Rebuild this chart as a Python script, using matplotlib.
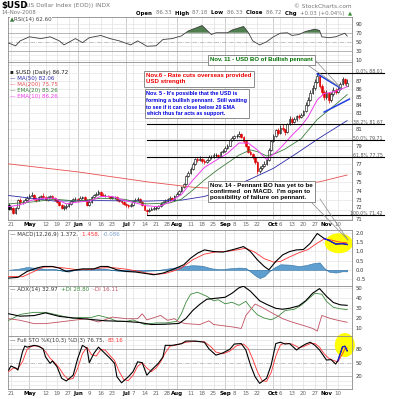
import numpy as np
import pandas as pd
import matplotlib
matplotlib.use("Agg")
import matplotlib.pyplot as plt
from matplotlib.patches import Ellipse
from matplotlib.lines import Line2D
from matplotlib.ticker import FixedLocator, NullLocator, NullFormatter

W, H = 400, 399

# trading sessions shown: 18 Apr - 14 Nov 2008 (US holidays skipped)
holidays = ["2008-05-26", "2008-07-04", "2008-09-01"]
dates = pd.bdate_range("2008-04-18", "2008-11-14", freq="C", holidays=holidays)

opens = [72.5, 72.1, 72.2, 71.6, 72.2, 73.0, 72.8, 72.8, 73.0, 73.2,
         73.5, 73.6, 73.1, 73.0, 73.3, 73.4, 73.3, 73.0, 73.3, 73.4,
         73.2, 73.0, 72.8, 72.5, 72.2, 72.3, 72.4, 72.6, 72.9, 73.1,
         73.1, 73.0, 73.2, 73.3, 73.0, 72.5, 72.8, 73.3, 73.6, 73.7,
         73.9, 73.6, 73.5, 73.5, 73.4, 73.2, 73.3, 73.3, 73.0, 72.9,
         72.8, 72.6, 72.5, 72.4, 72.5, 72.9, 73.0, 73.1, 72.8, 72.5,
         72.0, 71.8, 72.0, 72.1, 72.2, 72.2, 72.4, 72.6, 72.8, 72.9,
         73.1, 73.2, 73.0, 73.5, 73.7, 74.0, 74.4, 74.8, 75.6, 76.0,
         76.4, 77.0, 77.5, 77.4, 77.6, 77.3, 77.2, 77.4, 77.8, 77.8,
         78.0, 78.0, 77.9, 78.4, 78.5, 78.8, 79.1, 79.7, 80.0, 80.2,
         80.2, 80.5, 80.1, 79.6, 79.0, 78.4, 78.1, 77.8, 77.2, 76.2,
         76.5, 76.8, 77.0, 77.4, 78.6, 79.6, 80.2, 80.9, 80.6, 81.2,
         81.0, 80.7, 81.6, 82.3, 81.9, 82.2, 82.6, 82.5, 82.7, 83.2,
         84.0, 84.6, 85.5, 86.1, 86.9, 87.6, 86.4, 85.6, 85.0, 85.4,
         84.6, 85.3, 85.9, 85.6, 86.0, 86.6, 87.2, 86.33]
highs = [72.7, 72.4, 72.3, 72.3, 73.1, 73.2, 73.0, 73.2, 73.4, 73.7,
         73.9, 73.7, 73.3, 73.5, 73.6, 73.8, 73.4, 73.4, 73.6, 73.6,
         73.3, 73.1, 72.9, 72.6, 72.5, 72.6, 72.8, 73.0, 73.2, 73.3,
         73.2, 73.4, 73.5, 73.4, 73.1, 73.1, 73.4, 73.7, 73.9, 74.1,
         74.0, 73.8, 73.7, 73.6, 73.5, 73.5, 73.4, 73.4, 73.1, 73.0,
         72.9, 72.7, 72.6, 72.7, 73.0, 73.2, 73.3, 73.2, 72.9, 72.6,
         72.1, 72.2, 72.3, 72.4, 72.4, 72.5, 72.8, 72.9, 73.1, 73.2,
         73.4, 73.3, 73.6, 73.9, 74.1, 74.5, 74.9, 75.8, 76.2, 76.6,
         77.2, 77.7, 77.8, 77.9, 77.7, 77.5, 77.6, 78.0, 78.0, 78.2,
         78.2, 78.1, 78.5, 78.7, 79.0, 79.3, 79.9, 80.2, 80.4, 80.5,
         80.8, 80.6, 80.2, 79.7, 79.1, 78.6, 78.3, 77.9, 77.3, 76.8,
         77.0, 77.3, 77.6, 78.8, 79.8, 80.5, 81.1, 81.2, 81.5, 81.6,
         81.1, 81.8, 82.6, 82.5, 82.5, 82.8, 82.9, 83.0, 83.4, 84.3,
         85.0, 85.9, 86.5, 87.3, 88.01, 87.8, 86.6, 85.8, 85.8, 85.6,
         85.6, 86.2, 86.1, 86.3, 86.9, 87.5, 87.4, 87.18]
lows = [71.9, 71.9, 71.5, 71.5, 72.1, 72.6, 72.6, 72.7, 72.9, 73.1,
        73.4, 73.0, 72.8, 72.9, 73.2, 73.2, 72.9, 72.9, 73.2, 73.1,
        72.9, 72.7, 72.4, 72.1, 72.0, 72.1, 72.3, 72.5, 72.8, 72.9,
        72.8, 72.9, 73.1, 72.9, 72.4, 72.4, 72.7, 73.2, 73.5, 73.6,
        73.5, 73.4, 73.3, 73.3, 73.1, 73.1, 73.1, 72.9, 72.8, 72.6,
        72.5, 72.3, 72.2, 72.3, 72.4, 72.8, 72.9, 72.7, 72.4, 71.9,
        71.42, 71.7, 71.9, 72.0, 72.0, 72.1, 72.3, 72.5, 72.7, 72.8,
        73.0, 72.9, 72.9, 73.4, 73.6, 73.9, 74.3, 74.7, 75.5, 75.9,
        76.3, 76.9, 77.2, 77.3, 77.1, 77.0, 77.1, 77.3, 77.6, 77.7,
        77.8, 77.7, 77.8, 78.3, 78.4, 78.7, 79.0, 79.6, 79.9, 80.0,
        80.1, 80.0, 79.4, 78.9, 78.3, 78.0, 77.6, 77.0, 75.9, 76.0,
        76.3, 76.7, 76.9, 77.3, 78.5, 79.5, 80.1, 80.4, 80.5, 80.8,
        80.4, 80.6, 81.5, 81.6, 81.8, 82.0, 82.3, 82.4, 82.6, 83.1,
        83.8, 84.5, 85.3, 85.9, 86.7, 86.1, 85.2, 84.6, 84.7, 84.2,
        84.4, 85.1, 85.3, 85.4, 85.9, 86.5, 86.5, 86.33]
closes = [72.1, 72.2, 71.6, 72.2, 73.0, 72.8, 72.8, 73.0, 73.2, 73.5,
          73.6, 73.1, 73.0, 73.3, 73.4, 73.3, 73.0, 73.3, 73.4, 73.2,
          73.0, 72.8, 72.5, 72.2, 72.3, 72.4, 72.6, 72.9, 73.1, 73.1,
          73.0, 73.2, 73.3, 73.0, 72.5, 72.8, 73.3, 73.6, 73.7, 73.9,
          73.6, 73.5, 73.5, 73.4, 73.2, 73.3, 73.3, 73.0, 72.9, 72.8,
          72.6, 72.5, 72.4, 72.5, 72.9, 73.0, 73.1, 72.8, 72.5, 72.0,
          71.8, 72.0, 72.1, 72.2, 72.2, 72.4, 72.6, 72.8, 72.9, 73.1,
          73.2, 73.0, 73.5, 73.7, 74.0, 74.4, 74.8, 75.6, 76.0, 76.4,
          77.0, 77.5, 77.4, 77.6, 77.3, 77.2, 77.4, 77.8, 77.8, 78.0,
          78.0, 77.9, 78.4, 78.5, 78.8, 79.1, 79.7, 80.0, 80.2, 80.2,
          80.5, 80.1, 79.6, 79.0, 78.4, 78.1, 77.8, 77.2, 76.2, 76.5,
          76.8, 77.0, 77.4, 78.6, 79.6, 80.2, 80.9, 80.6, 81.2, 81.0,
          80.7, 81.6, 82.3, 81.9, 82.2, 82.6, 82.5, 82.7, 83.2, 84.0,
          84.6, 85.5, 86.1, 86.9, 87.6, 86.4, 85.6, 85.0, 85.4, 84.6,
          85.3, 85.9, 85.6, 86.0, 86.6, 87.2, 86.69, 86.72]

# overlays / indicators, x = session number from 18 Apr
ma50_t = [0, 10, 20, 40, 60, 75, 85, 95, 105, 115, 125, 135, 147]
ma50 = [73.5, 73.2, 72.9, 72.95, 72.9, 73.0, 73.4, 74.2, 75.3, 76.5, 78.2, 80.0, 82.06]
ma200_t = [0, 30, 60, 80, 95, 110, 125, 135, 147]
ma200 = [77.0, 76.1, 75.0, 74.4, 74.2, 74.3, 74.7, 75.0, 75.75]
ema20_t = [0, 10, 20, 30, 40, 50, 60, 70, 75, 80, 85, 90, 95, 100, 105, 108, 112,
           116, 120, 127, 134, 141, 147]
ema20 = [72.6, 72.8, 73.1, 72.9, 73.2, 73.1, 72.6, 72.7, 73.1, 74.1, 75.2, 76.2, 77.1,
         78.0, 78.6, 78.4, 77.9, 78.2, 78.7, 79.9, 82.2, 83.8, 85.26]
ema10_t = [0, 5, 10, 15, 20, 25, 30, 35, 40, 45, 50, 55, 60, 65, 70, 75, 80, 85, 90,
           95, 100, 104, 108, 112, 116, 119, 123, 127, 130, 134, 137, 141, 144, 147]
ema10 = [72.3, 72.5, 73.0, 73.2, 73.2, 72.6, 72.8, 72.9, 73.4, 73.4, 73.0, 72.7, 72.4,
         72.3, 72.8, 73.6, 75.2, 76.6, 77.4, 78.2, 79.4, 79.4, 78.6, 77.5, 78.3, 79.1,
         80.3, 81.4, 82.5, 84.6, 85.4, 85.6, 85.9, 86.26]

rsi_t = [0, 3, 5, 9, 14, 18, 22, 24, 29, 32, 35, 40, 44, 48, 53, 56, 60, 64, 67, 71,
         75, 78, 83, 84, 86, 88, 90, 95, 97, 102, 104, 106, 109, 112, 115, 118, 121,
         123, 126, 129, 133, 135, 136, 139, 142, 146, 147]
rsi = [47, 41, 52, 61, 57, 61, 52, 43, 57, 48, 59, 64, 57, 52, 43, 52, 40, 41, 55, 57,
       63, 74, 84, 86, 76, 66, 70, 70, 76, 84, 71, 52, 43, 50, 61, 69, 70, 64, 66, 73,
       78, 75, 61, 59, 61, 69, 62.6]

macd_t = [0, 4, 8, 12, 15, 19, 22, 25, 28, 32, 37, 40, 43, 47, 51, 55, 60, 63, 67, 71,
          76, 79, 82, 85, 89, 93, 97, 102, 105, 108, 111, 113, 116, 119, 122, 125, 128,
          131, 134, 137, 139, 142, 145, 147]
macd = [-0.45, -0.41, -0.09, 0.09, 0.18, 0.18, 0.09, -0.09, -0.03, 0.05, 0.05, 0.18,
        0.18, 0.0, -0.09, -0.12, -0.21, -0.27, -0.18, 0.0, 0.27, 0.63, 0.9, 1.08, 0.99,
        0.96, 1.08, 1.26, 0.99, 0.54, 0.18, 0.0, 0.45, 0.81, 0.99, 1.08, 1.1, 1.44,
        1.97, 1.7, 1.6, 1.4, 1.42, 1.372]
signal_t = [0, 6, 11, 15, 19, 24, 30, 36, 40, 45, 50, 55, 60, 64, 68, 72, 75, 80, 85,
            90, 95, 100, 103, 107, 111, 115, 118, 122, 126, 130, 134, 137, 140, 143, 147]
signal = [-0.36, -0.38, -0.09, 0.14, 0.16, 0.1, 0.0, 0.02, 0.1, 0.12, 0.05, -0.05,
          -0.18, -0.25, -0.2, -0.05, 0.1, 0.55, 0.85, 0.97, 1.0, 1.1, 1.17, 0.95, 0.6,
          0.42, 0.45, 0.7, 0.92, 1.1, 1.45, 1.67, 1.62, 1.52, 1.458]
hist_t = [0, 4, 8, 12, 16, 20, 23, 26, 29, 33, 38, 42, 46, 50, 55, 60, 64, 68, 72, 76,
          80, 84, 88, 92, 96, 100, 103, 105, 107, 109, 111, 113, 115, 118, 122, 126,
          129, 132, 135, 137, 139, 142, 145, 147]
hist = [0.0, 0.05, 0.15, 0.1, 0.05, 0.05, -0.05, -0.1, 0.0, 0.05, 0.08, 0.06, -0.03,
        -0.08, -0.08, -0.05, -0.03, 0.05, 0.12, 0.2, 0.25, 0.22, 0.08, 0.03, 0.08, 0.12,
        0.1, -0.1, -0.3, -0.45, -0.35, -0.1, 0.1, 0.3, 0.28, 0.2, 0.25, 0.35, 0.4, 0.1,
        -0.1, -0.15, -0.08, -0.086]

adx_t = [0, 5, 11, 16, 22, 28, 34, 42, 50, 57, 62, 68, 74, 77, 80, 83, 86, 90, 94, 97,
         100, 102, 105, 109, 112, 116, 119, 122, 126, 129, 132, 135, 138, 141, 144, 147]
adx = [24.6, 22.2, 22.8, 25.5, 22.0, 20.5, 19.3, 17.6, 17.1, 15.9, 13.9, 14.2, 15.0,
       20.0, 28.0, 34.0, 39.0, 40.0, 41.0, 45.0, 50.4, 52.0, 47.0, 37.5, 34.0, 30.0,
       29.1, 30.1, 32.5, 37.5, 45.0, 49.6, 42.0, 35.8, 33.5, 32.97]
pdi_t = [0, 5, 11, 16, 22, 25, 28, 31, 36, 39, 44, 47, 51, 54, 59, 64, 68, 73, 75, 77,
         79, 82, 86, 89, 91, 94, 97, 100, 103, 105, 108, 111, 114, 117, 120, 124, 127,
         130, 133, 136, 138, 141, 144, 147]
pdi = [18, 24, 26, 26, 23, 21.4, 20, 21, 21, 23, 20, 17, 17, 18.5, 14, 15.5, 15.5, 17,
       24.6, 36, 44, 46, 42, 37.5, 38.5, 34.5, 36, 33, 37, 31, 23.6, 20.3, 18.6, 22,
       27.8, 29, 33, 39, 45, 44, 37, 31, 29.5, 28.8]
mdi_t = [0, 5, 11, 16, 22, 28, 34, 39, 45, 51, 56, 58, 60, 66, 69, 72, 74, 77, 83, 87,
         89, 97, 101, 103, 107, 110, 115, 119, 123, 128, 132, 134, 136, 140, 143, 147]
mdi = [19.7, 18.1, 14.8, 14.8, 16.4, 18.1, 19.7, 16.4, 21.3, 19.7, 19.7, 24.6, 18.5,
       22.9, 18.1, 19.7, 16.4, 14.8, 13.9, 17.6, 13.9, 11.6, 10.0, 22.9, 34.3, 31.0,
       24.6, 19.7, 16.4, 13.0, 10.0, 7.4, 22.9, 19.7, 18.1, 16.11]

stok_t = [0, 1, 3, 4, 6, 7, 8, 11, 13, 15, 16, 18, 19, 21, 23, 25, 28, 30, 32, 34, 35,
          37, 39, 41, 44, 46, 47, 49, 52, 54, 56, 58, 60, 62, 65, 67, 68, 71, 75, 77,
          81, 85, 87, 90, 93, 96, 98, 101, 103, 105, 107, 109, 112, 114, 116, 118, 120,
          122, 125, 127, 129, 131, 133, 135, 138, 140, 142, 143, 144, 145, 146, 147]
stok = [33.6, 42.6, 38, 33.6, 74.7, 87.4, 85, 89, 87, 81, 63, 48.6, 54, 41, 15, 9, 22,
        60, 89, 82.6, 50, 71, 85, 75, 60, 48.6, 18.6, 5, 18.6, 30, 52, 50, 22, 33.6,
        48.6, 63, 89, 89, 92.6, 98.6, 98.6, 96, 81, 67, 72, 80, 92, 93, 78.6, 45, 18.6,
        3.7, 15, 45, 93, 96, 92, 93, 78.6, 86, 92, 96, 89, 78.6, 56, 57, 47, 55, 70,
        85.7, 87, 76.75]
stod_t = [0, 2, 4, 6, 8, 10, 12, 14, 16, 18, 20, 22, 24, 26, 28, 30, 32, 34, 36, 38,
          40, 42, 44, 46, 48, 50, 52, 54, 56, 58, 60, 62, 64, 66, 68, 70, 73, 77, 81,
          85, 88, 90, 93, 96, 99, 102, 104, 106, 108, 110, 112, 114, 116, 118, 120, 123,
          126, 128, 131, 133, 135, 137, 139, 141, 143, 145, 146, 147]
stod = [30, 38, 37, 52, 80, 87, 88, 85, 75, 60, 50, 38, 22, 12, 15, 38, 70, 85, 68, 65,
        80, 78, 66, 55, 30, 12, 10, 22, 42, 50, 38, 30, 38, 52, 72, 87, 90, 96, 98, 97,
        85, 74, 70, 76, 88, 92, 82, 58, 30, 10, 8, 28, 65, 90, 94, 92, 84, 86, 93, 93,
        85, 70, 60, 55, 52, 70, 81, 83.16]

# Fibonacci retracement levels as labelled on the chart
fib_pct = ["0.0%", "38.2%", "50.0%", "61.8%", "100.0%"]
fib_level = [88.01, 81.67, 79.71, 77.75, 71.42]

# hand-drawn pennant (session, price)
pennant_top = ([134, 144], [87.9, 86.1])
pennant_bot = ([137, 148], [83.1, 84.7])

tick_days = ["2008-04-21", "2008-05-01", "2008-05-12", "2008-05-19", "2008-05-27",
             "2008-06-02", "2008-06-09", "2008-06-16", "2008-06-23", "2008-07-01",
             "2008-07-07", "2008-07-14", "2008-07-21", "2008-07-28", "2008-08-01",
             "2008-08-11", "2008-08-18", "2008-08-25", "2008-09-02", "2008-09-08",
             "2008-09-15", "2008-09-22", "2008-10-01", "2008-10-06", "2008-10-13",
             "2008-10-20", "2008-10-27", "2008-11-03", "2008-11-10"]
tick_text = ["21", "May", "12", "19", "27", "Jun", "9", "16", "23", "Jul", "7", "14",
             "21", "28", "Aug", "11", "18", "25", "Sep", "8", "15", "22", "Oct", "6",
             "13", "20", "27", "Nov", "10"]

note_bo = "Nov. 11 - USD BO of Bullish pennant"
note_rate = "Nov.6 - Rate cuts overseas provided\nUSD strength"
note_pennant = ("Nov. 5 - It's possible that the USD is\n"
                "forming a bullish pennant.  Still waiting\n"
                "to see if it can close below 20 EMA\n"
                "which thus far acts as support.")
note_macd = ("Nov. 14 - Pennant BO has yet to be\n"
             "confirmed  on MACD.  I'm open to\n"
             "possibility of failure on pennant.")

C_MA50 = "#2b2ba8"
C_MA200 = "#e8504f"
C_EMA20 = "#3c7d3c"
C_EMA10 = "#f03cf0"
C_RED = "#e00000"
GREY = "#555555"

tick_pos = dates.get_indexer(pd.to_datetime(tick_days))
is_month = [t.isalpha() for t in tick_text]

fig = plt.figure(figsize=(W / 100, H / 100), dpi=100)
fig.patch.set_facecolor("white")


def P(px, py):
    return px / W, 1 - py / H


def panel(top, bottom):
    ax = fig.add_axes([8 / W, 1 - bottom / H, 344 / W, (bottom - top) / H])
    ax.set_xlim(-0.3, 149.1)
    for s in ax.spines.values():
        s.set_color("#8c8c8c")
        s.set_linewidth(0.6)
    ax.yaxis.tick_right()
    ax.tick_params(axis="y", length=0, pad=2.5, labelsize=3.8, labelcolor="#333333")
    ax.tick_params(axis="x", length=0, pad=1.5, labelsize=4, labelbottom=False)
    ax.set_xticks(tick_pos)
    ax.set_xticklabels(tick_text)
    for xp, m in zip(tick_pos, is_month):
        ax.axvline(xp, color="#b9b9b9" if m else "#e0e0e0", lw=0.5, zorder=0.5)
    return ax


def style_dates(ax):
    ax.tick_params(axis="x", labelbottom=True)
    for lab, m in zip(ax.get_xticklabels(), is_month):
        lab.set_color("black" if m else "#666666")
        lab.set_fontweight("bold" if m else "normal")


def hline(ax, y, color="#e4e4e4", ls="-", lw=0.5):
    ax.axhline(y, color=color, ls=ls, lw=lw, zorder=0.6)


def text_run(px, py, parts, size=4.0, align="left", box=False):
    r = fig.canvas.get_renderer()
    arts = []
    for s, color, weight in parts:
        kw = {}
        if box:
            kw["bbox"] = dict(fc="white", ec="none", pad=0.2)
        arts.append(fig.text(*P(px, py), s, fontsize=size, color=color,
                             fontweight=weight, va="center", ha="left", zorder=6, **kw))
    gap = size * 1.389 * 0.32
    widths = [a.get_window_extent(r).width + (gap if s.endswith(" ") else 0)
              for a, (s, _, _) in zip(arts, parts)]
    x = px if align == "left" else px - sum(widths)
    for a, w in zip(arts, widths):
        a.set_x(x / W)
        x += w


# ---------------- RSI ----------------
ax_rsi = panel(17, 62)
ax_rsi.set_ylim(5, 105)
ax_rsi.set_yticks([10, 30, 50, 70, 90])
for v in [10, 20, 40, 60, 80, 90]:
    hline(ax_rsi, v)
hline(ax_rsi, 70, "#999999")
hline(ax_rsi, 30, "#999999")
hline(ax_rsi, 50, "#aaaaaa", "-.")
r_t, r_v = np.array(rsi_t), np.array(rsi, float)
ax_rsi.fill_between(r_t, r_v, 70, where=r_v >= 70, interpolate=True,
                    color="#4f7f4f", lw=0, zorder=2)
ax_rsi.plot(r_t, r_v, color="#3c3c3c", lw=0.6, zorder=3)

# ---------------- price ----------------
ax = panel(62, 220)
ax.set_yscale("log")
ax.set_ylim(70.90, 89.45)
price_ticks = list(range(71, 90))
hidden = {72, 78, 80, 82, 88, 89}
ax.yaxis.set_major_locator(FixedLocator(price_ticks))
ax.yaxis.set_minor_locator(NullLocator())
ax.yaxis.set_minor_formatter(NullFormatter())
ax.set_yticklabels(["" if p in hidden else str(p) for p in price_ticks])
# 72 sits just above the 100% retracement label, nudge it up a little
ax.annotate("72", (1, 72), xycoords=ax.get_yaxis_transform(), xytext=(2.5, 1.8),
            textcoords="offset points", fontsize=3.8, color="#333333",
            ha="left", va="center", annotation_clip=False)
ax.grid(axis="y", color="#e4e4e4", lw=0.5)
ax.set_axisbelow(True)
style_dates(ax)

x = np.arange(len(dates))
o, h, l, c = (np.array(v, float) for v in (opens, highs, lows, closes))
prev = np.r_[c[0], c[:-1]]
col = np.where(c < prev, C_RED, "#000000")
face = np.where(c < o, col, "white")
ax.vlines(x, l, h, colors=col, lw=0.5, zorder=3)
ax.bar(x, np.abs(c - o), bottom=np.minimum(o, c), width=0.75, color=face,
       edgecolor=col, lw=0.4, zorder=4)

ax.plot(ma200_t, ma200, color=C_MA200, lw=0.6, zorder=5)
ax.plot(ma50_t, ma50, color=C_MA50, lw=0.6, zorder=5)
ax.plot(ema20_t, ema20, color=C_EMA20, lw=0.6, zorder=5)
ax.plot(ema10_t, ema10, color=C_EMA10, lw=0.7, zorder=5)

i_hi, i_lo = int(np.argmax(h)), int(np.argmin(l))
x0, x1 = ax.get_xlim()
x_ext = x0 + 1.093 * (x1 - x0)
for pct, lev in zip(fib_pct, fib_level):
    start = i_hi if pct == "0.0%" else i_lo
    ax.plot([start, x_ext], [lev, lev], color="black", lw=0.8, clip_on=False, zorder=6)
    ax.annotate(f"{pct} {lev:.2f}", (1.09, lev), xycoords=ax.get_yaxis_transform(),
                xytext=(0, -0.5), textcoords="offset points", fontsize=3.3,
                color=GREY, ha="right", va="bottom", annotation_clip=False)

ax.plot(*pennant_top, color="#1f3fe0", lw=1.1, zorder=7)
ax.plot(*pennant_bot, color="#1f3fe0", lw=1.1, zorder=7)

# ---------------- MACD ----------------
ax_m = panel(230, 286)
ax_m.set_ylim(-0.88, 2.16)
ax_m.set_yticks([-0.5, 0.0, 0.5, 1.0, 1.5, 2.0])
ax_m.set_yticklabels(["-0.5", "0.0", "0.5", "1.0", "1.5", "2.0"])
for v in [-0.5, 0.0, 0.5, 1.0, 1.5, 2.0]:
    hline(ax_m, v)
ax_m.add_patch(Ellipse((143.4, 1.44), 12.2, 1.08, fc="#ffff00", ec="none", zorder=1))
ax_m.fill_between(hist_t, 0, hist, color="#5e9fd0", lw=0.4, edgecolor="#2f6f9f", zorder=2)
ax_m.plot(signal_t, signal, color="#ff3030", lw=0.6, zorder=3)
ax_m.plot(macd_t, macd, color="black", lw=0.8, zorder=4)
m_t, m_v = np.array(macd_t), np.array(macd)
sel = m_t >= 137
ax_m.plot(m_t[sel], m_v[sel], color="#2020e0", lw=1.0, zorder=5)

# ---------------- ADX ----------------
ax_a = panel(286, 336)
ax_a.set_ylim(2.5, 52.2)
ax_a.set_yticks([10, 20, 30, 40, 50])
for v in [10, 20, 30, 40, 50]:
    hline(ax_a, v)
ax_a.plot(pdi_t, pdi, color="#3c8a3c", lw=0.6, zorder=3)
ax_a.plot(mdi_t, mdi, color="#c05060", lw=0.6, zorder=3)
ax_a.plot(adx_t, adx, color="black", lw=0.8, zorder=4)

# ---------------- Full STO ----------------
ax_s = panel(336, 389)
ax_s.set_ylim(-9, 110)
ax_s.set_yticks([20, 50, 80])
for v in [0, 10, 30, 40, 60, 70, 90, 100]:
    hline(ax_s, v)
hline(ax_s, 80, "#999999")
hline(ax_s, 20, "#999999")
hline(ax_s, 50, "#aaaaaa", "-.")
style_dates(ax_s)
ax_s.add_patch(Ellipse((146, 89.7), 8.7, 53.8, fc="#ffff00", ec="none", zorder=1,
                       clip_on=False))
ax_s.plot(stod_t, stod, color="#ff3030", lw=0.6, zorder=3)
ax_s.plot(stok_t, stok, color="black", lw=0.8, zorder=4)
k_t, k_v = np.array(stok_t), np.array(stok)
sel = k_t >= 143
ax_s.plot(k_t[sel], k_v[sel], color="#2020e0", lw=0.9, zorder=5)

# ---------------- texts ----------------
text_run(1.5, 5.5, [("$USD", "black", "bold")], size=6.3)
fig.text(*P(24, 6), "(US Dollar Index (EOD)) INDX", fontsize=4.2, color="#777777", va="center")
fig.text(*P(352, 6), "\u00a9 StockCharts.com", fontsize=4.2, color="#777777", va="center", ha="right")
fig.text(*P(1.5, 13), "14-Nov-2008", fontsize=3.9, color="#777777", va="center")
text_run(352, 13, [("Open ", "black", "bold"), ("86.33 ", "#777777", "normal"),
                   ("High ", "black", "bold"), ("87.18 ", "#777777", "normal"),
                   ("Low ", "black", "bold"), ("86.33 ", "#777777", "normal"),
                   ("Close ", "black", "bold"), ("86.72 ", "#777777", "normal"),
                   ("Chg ", "black", "bold"), ("+0.03 (+0.04%) ", "#777777", "normal"),
                   ("\u25b2", "#2e8b2e", "normal")], size=3.9, align="right")

text_run(10, 20, [("\u25b2", "#3a7a3a", "normal"), ("RSI(14) 62.60", "#444444", "normal")],
         size=4.0, box=True)

legend = [("\u25aa $USD (Daily) 86.72", "#222222"), ("\u2014 MA(50) 82.06", C_MA50),
          ("\u2014 MA(200) 75.75", C_MA200), ("\u2014 EMA(20) 85.26", C_EMA20),
          ("\u2014 EMA(10) 86.26", C_EMA10)]
for k, (s, cc) in enumerate(legend):
    fig.text(*P(10, 72.3 + 6 * k), s, fontsize=4.0, color=cc, va="center", zorder=6)

text_run(10, 234.5, [("\u2014 MACD(12,26,9) 1.372, ", "#333333", "normal"),
                     ("1.458, ", "#ff3030", "normal"), ("-0.086", "#7a9cc6", "normal")],
         size=4.0, box=True)
text_run(10, 289.5, [("\u2014 ADX(14) 32.97 ", "#333333", "normal"),
                     ("+DI 28.80 ", "#3c8a3c", "normal"), ("-DI 16.11", "#c05060", "normal")],
         size=4.0, box=True)
text_run(10, 340.5, [("\u2014 Full STO %K(10,3) %D(3) 76.75, ", "#333333", "normal"),
                     ("83.16", "#ff3030", "normal")], size=4.0, box=True)

box = dict(boxstyle="square,pad=0.35", fc="white", ec="#7a7a7a", lw=0.6)
note_kw = dict(fontweight="bold", family="Liberation Sans", ha="left", zorder=8, bbox=box)
fig.text(*P(210, 60), note_bo, color="#007000", va="center", fontsize=4.3, **note_kw)
fig.text(*P(146.5, 73.5), note_rate, color="#ee0000", va="top", fontsize=4.4,
         linespacing=1.25, **note_kw)
fig.text(*P(146.5, 91), note_pennant, color="#0000dd", va="top", fontsize=3.9,
         linespacing=1.45, **note_kw)
fig.text(*P(210, 183.5), note_macd, color="black", va="top", fontsize=4.5,
         linespacing=1.2, **note_kw)

for (xa, ya), (xb, yb) in [((306, 64), (341, 88)), ((315, 60), (341, 88)),
                           ((312, 203), (348, 240)), ((320, 199), (348, 240))]:
    fig.add_artist(Line2D([xa / W, xb / W], [1 - ya / H, 1 - yb / H],
                          transform=fig.transFigure, color="#8a8a8a", lw=0.5, zorder=7))

fig.savefig("out.png", dpi=100)
